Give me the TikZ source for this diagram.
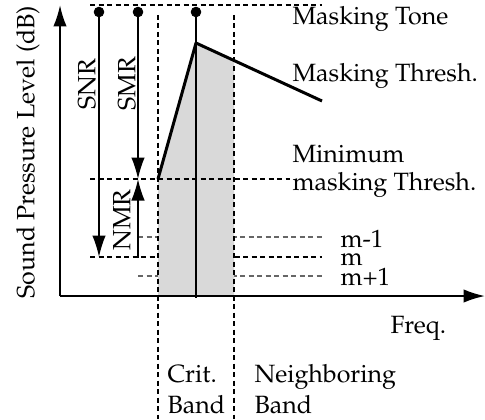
\documentclass[tikz,border=0pt]{standalone}
\usepackage[T1]{fontenc}
\usepackage{mathpazo}
\usepackage{tikz}
\usetikzlibrary{arrows.meta,positioning}

\begin{document}
\begin{tikzpicture}[x=0.4pt,y=-0.4pt,
        point/.style={shape=circle,draw,fill,minimum size=3.8pt,inner sep=0},
        guide/.style={line width=0.5pt,dash pattern=on 2pt off 1.4pt},
        faint/.style={guide,color=black!60},
        thresh/.style={line width=1.2pt,line join=round},
        meas/.style={line width=0.6pt,->},
        axis/.style={line width=0.8pt,->},
        lbl/.style={anchor=base west,inner sep=0},
        vlbl/.style={rotate=90,inner sep=0},
        >={Latex[length=8.6pt,width=5.4pt]}]
    \useasboundingbox (0,0) rectangle (485,419);
    % points
    \coordinate (O) at (60,296); \coordinate (ytop) at (60,5); \coordinate (xend) at (485,296);
    \coordinate (lo) at (158,179); \coordinate (pk) at (196,43); \coordinate (hi) at (322,101);
    \coordinate (cbtop) at (234,60.5); \coordinate (cbl) at (158,296); \coordinate (cbr) at (234,296);
    \coordinate (base) at (196,298);
    \coordinate (snr1) at (99,257); \coordinate (smr1) at (138,179); \coordinate (nmr0) at (138,258);
    \coordinate (t0) at (90,5); \coordinate (t1) at (322,5);
    \coordinate (mn0) at (90,179); \coordinate (mn1) at (290,179);
    \coordinate (m0) at (90,257); \coordinate (m1) at (322,257);
    \coordinate (ma0) at (138,237); \coordinate (ma1) at (322,237);
    \coordinate (mb0) at (138,276); \coordinate (mb1) at (322,276);
    \coordinate (bl0) at (158,15); \coordinate (bl1) at (158,419);
    \coordinate (br0) at (234,15); \coordinate (br1) at (234,419);
    \node[point] (snr0) at (99,12) {};
    \node[point] (smr0) at (138,12) {};
    \node[point] (tone) at (196,12) {};
    % noise levels, hidden by the band
    \draw[faint] (ma0) -- (ma1);
    \draw[guide] (m0) -- (m1);
    \draw[faint] (mb0) -- (mb1);
    \fill[black!15] (cbl) -- (lo) -- (pk) -- (cbtop) -- (cbr) -- cycle;
    \draw[guide] (bl0) -- (bl1); \draw[guide] (br0) -- (br1);
    \draw[guide] (t0) -- (t1);
    \draw[guide] (mn0) -- (mn1);
    % axes
    \draw[axis] (O) -- (ytop);
    \draw[axis] (O) -- (xend);
    % tone and threshold
    \draw[line width=0.6pt] (tone.center) -- (base);
    \draw[thresh] (lo) -- (pk) -- (hi);
    \draw[meas] (snr0.center) -- (snr1);
    \draw[meas] (smr0.center) -- (smr1);
    \draw[meas] (nmr0) -- (smr1);
    % labels
    \node[vlbl] (snrtxt) at (87,84) {SNR};
    \node[vlbl] (smrtxt) at (127,84) {SMR};
    \node[vlbl] (nmrtxt) at (122,220) {NMR};
    \node[vlbl] (ytxt) at (28,152) {Sound Pressure Level (dB)};
    \node[lbl] (tonetxt) at (292,25) {Masking Tone};
    \node[lbl] (thrtxt) at (292,82) {Masking Thresh.};
    \node[lbl] (mintxt) at (292,162) {Minimum};
    \node[lbl] (mintxtb) at (292,190) {masking Thresh.};
    \node[lbl] (matxt) at (340,247) {m-1};
    \node[lbl] (mtxt) at (340,265) {m};
    \node[lbl] (mbtxt) at (340,285) {m+1};
    \node[lbl] (freq) at (390,333) {Freq.};
    \node[lbl] (crit) at (167,382) {Crit.};
    \node[lbl] (critb) at (167,413) {Band};
    \node[lbl] (nb) at (254,382) {Neighboring};
    \node[lbl] (nbb) at (254,413) {Band};
\end{tikzpicture}
\end{document}
